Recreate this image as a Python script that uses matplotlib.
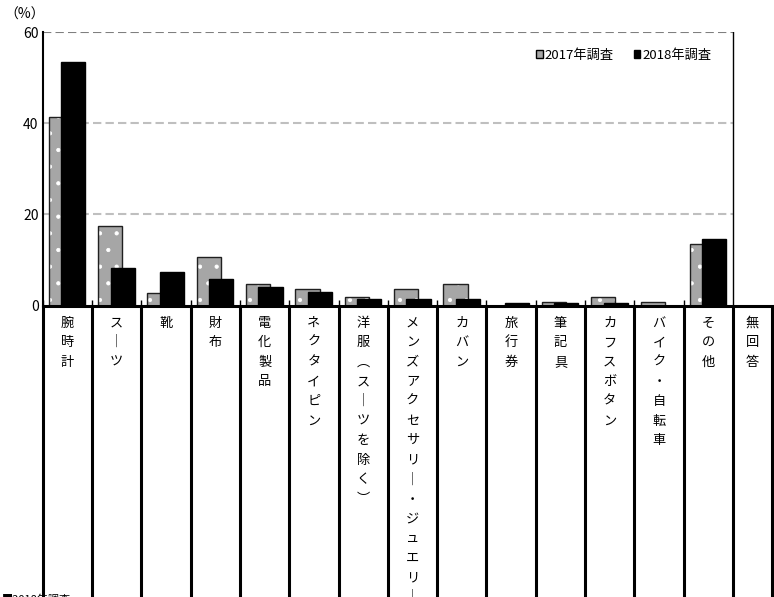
import numpy as np
import matplotlib.pyplot as plt
from matplotlib.patches import Patch
from matplotlib.transforms import blended_transform_factory

plt.rcParams['font.family'] = ['Noto Sans CJK JP', 'DejaVu Sans']
plt.rcParams['hatch.linewidth'] = 0.6

categories = ["腕時計", "スーツ", "靴", "財布", "電化製品", "ネクタイピン",
              "洋服（スーツを除く）", "メンズアクセサリー・ジュエリー", "カバン",
              "旅行券", "筆記具", "カフスボタン", "バイク・自転車", "その他", "無回答"]
v2017 = [41.3, 17.4, 2.7, 10.7, 4.8, 3.6, 1.8, 3.6, 4.8, 0.0, 0.8, 1.8, 0.8, 13.6, 0.0]
v2018 = [53.4, 8.3, 7.4, 5.8, 4.0, 3.0, 1.5, 1.4, 1.5, 0.5, 0.6, 0.6, 0.0, 14.7, 0.0]
series = ["2017年調査", "2018年調査"]
yticks = [0, 20, 40, 60]

W, H = 774, 597
fig = plt.figure(figsize=(W / 100, H / 100), dpi=100)
ax = fig.add_axes([42.7 / W, (H - 305.5) / H, (772 - 42.7) / W, 273.2 / H])

n = len(categories)
x = np.arange(n)
last_edge = 14.29
ax.set_xlim(-0.5, last_edge)
ax.set_ylim(0, 60)

# 2017: grey with white dots, then black outline
ax.bar(x - 0.13, v2017, 0.49, color='#A6A6A6', edgecolor='white', hatch='.', linewidth=0, zorder=2)
ax.bar(x - 0.13, v2017, 0.49, fill=False, edgecolor='#202020', linewidth=1, zorder=2)
ax.bar(x + 0.12, v2018, 0.49, color='black', edgecolor='black', linewidth=1, zorder=3)

# grid / frame
for y in [20, 40]:
    ax.plot([-0.5, 13.5], [y, y], color='#BFBFBF', lw=1.5, ls=(0, (4, 2)), zorder=1)
ax.plot([-0.5, 13.5], [60, 60], color='#7F7F7F', lw=1.5, ls=(0, (4, 2)), zorder=1)
ax.plot([13.5, 13.5], [0, 60], color='black', lw=1, zorder=4)

for s in ['top', 'right', 'bottom']:
    ax.spines[s].set_visible(False)
ax.spines['left'].set_linewidth(1.5)
ax.axhline(0, color='black', lw=2.2, zorder=5, clip_on=False)

ax.set_yticks(yticks)
ax.tick_params(axis='y', length=0, labelsize=10, pad=3)
ax.set_xticks(np.arange(n - 1) - 0.5)
ax.set_xticklabels([])
ax.tick_params(axis='x', direction='in', length=4, width=1)

fig.text(25 / W, 1 - 15 / H, "（%）", fontsize=10, ha='center', va='center')

# data-table style category cells
tr = blended_transform_factory(ax.transData, ax.transAxes)
edges = list(np.arange(n) - 0.5) + [last_edge]
ax.vlines(edges, -1.2, 0, colors='black', lw=2.2, transform=tr, clip_on=False)

px = 273.2
for i, cat in enumerate(categories):
    cx = (edges[i] + edges[i + 1]) / 2
    chars = cat.replace("ー", "｜").replace("（", "︵").replace("）", "︶")
    for j, ch in enumerate(chars):
        yp = 323 + j * 19.6
        ax.text(cx, (305.5 - yp) / px, ch, transform=tr, fontsize=9.5,
                ha='center', va='center', clip_on=False)

fig.text(2 / W, 3 / H, "■2018年調査", fontsize=8, ha='left', va='top')

handles = [Patch(facecolor='#A6A6A6', edgecolor='black', linewidth=1),
           Patch(facecolor='black', edgecolor='black')]
fig.legend(handles, series, loc='center right', bbox_to_anchor=(718 / W, 1 - 55 / H),
           ncol=2, frameon=False, fontsize=9.5, handlelength=0.5, handleheight=0.5,
           handletextpad=0.15, columnspacing=1.5, borderpad=0)

plt.savefig("out.png", dpi=100)
